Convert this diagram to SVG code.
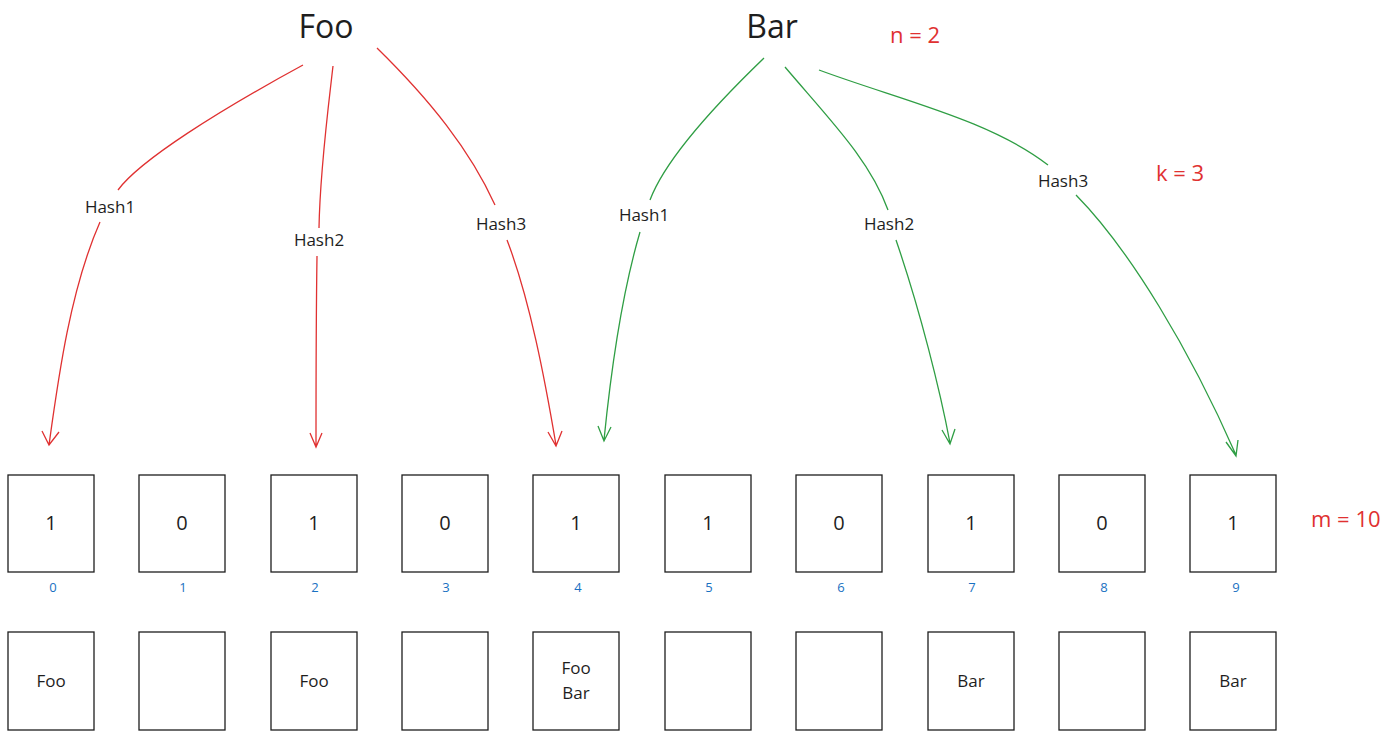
<svg xmlns="http://www.w3.org/2000/svg" width="1400" height="738" viewBox="0 0 1400 738">
<style>
.box{fill:#fff;stroke:#1e1e1e;stroke-width:1.3}
.t{font-family:"Open Sans","Liberation Sans",sans-serif;fill:#1e1e1e;text-anchor:middle}
.num{font-size:20px}
.idx{font-size:13px;fill:#1971c2}
.lbl{font-size:17px}
.red{stroke:#e03131;fill:none;stroke-width:1.3}
.grn{stroke:#2f9e44;fill:none;stroke-width:1.3}
.rt{font-family:"Open Sans","Liberation Sans",sans-serif;fill:#e03131;font-size:22px}
</style>
<rect width="1400" height="738" fill="#fff"/>
<g id="title-foo"><text class="t" x="326" y="38" font-size="32">Foo</text></g>
<g id="title-bar"><text class="t" x="772" y="38" font-size="32">Bar</text></g>
<g id="params">
<text class="rt" x="890" y="43">n = 2</text>
<text class="rt" x="1156" y="181">k = 3</text>
<text class="rt" x="1311" y="527">m = 10</text>
</g>
<g id="connectors">
<path class="red" d="M303 65 C220 110 140 160 118 190"/>
<path class="red" d="M100 222 C70 290 58 380 49 445 M42 431 L49 445 L59 432"/>
<path class="red" d="M333 66 C328 110 320 170 319 228"/>
<path class="red" d="M317 256 C316 320 316 390 316 447 M310 433 L316 447 L322 433"/>
<path class="red" d="M377 48 C430 100 470 150 495 205"/>
<path class="red" d="M507 240 C530 300 545 380 556 445 M548 432 L556 446 L562 431"/>
<path class="grn" d="M764 58 C710 110 665 160 650 200"/>
<path class="grn" d="M640 232 C620 300 610 380 604 440 M598 426 L604 441 L611 427"/>
<path class="grn" d="M785 67 C830 120 870 160 888 210"/>
<path class="grn" d="M896 240 C920 310 940 390 950 443 M942 430 L950 444 L955 429"/>
<path class="grn" d="M819 70 C900 100 990 120 1048 165"/>
<path class="grn" d="M1076 195 C1130 250 1190 350 1236 455 M1226 442 L1236 456 L1238 440"/>
</g>
<g id="hash-labels">
<text class="t lbl" x="110" y="213">Hash1</text>
<text class="t lbl" x="319" y="246">Hash2</text>
<text class="t lbl" x="501" y="230">Hash3</text>
<text class="t lbl" x="644" y="221">Hash1</text>
<text class="t lbl" x="889" y="230">Hash2</text>
<text class="t lbl" x="1063" y="187">Hash3</text>
</g>
<g id="bits">
<g id="b0"><rect class="box" x="8" y="475" width="86" height="97"/><text class="t num" x="51" y="530">1</text><text class="t idx" x="53" y="592">0</text></g>
<g id="b1"><rect class="box" x="139" y="475" width="86" height="97"/><text class="t num" x="182" y="530">0</text><text class="t idx" x="183" y="592">1</text></g>
<g id="b2"><rect class="box" x="271" y="475" width="86" height="97"/><text class="t num" x="314" y="530">1</text><text class="t idx" x="315" y="592">2</text></g>
<g id="b3"><rect class="box" x="402" y="475" width="86" height="97"/><text class="t num" x="445" y="530">0</text><text class="t idx" x="446" y="592">3</text></g>
<g id="b4"><rect class="box" x="533" y="475" width="86" height="97"/><text class="t num" x="576" y="530">1</text><text class="t idx" x="578" y="592">4</text></g>
<g id="b5"><rect class="box" x="665" y="475" width="86" height="97"/><text class="t num" x="708" y="530">1</text><text class="t idx" x="709" y="592">5</text></g>
<g id="b6"><rect class="box" x="796" y="475" width="86" height="97"/><text class="t num" x="839" y="530">0</text><text class="t idx" x="841" y="592">6</text></g>
<g id="b7"><rect class="box" x="928" y="475" width="86" height="97"/><text class="t num" x="971" y="530">1</text><text class="t idx" x="972" y="592">7</text></g>
<g id="b8"><rect class="box" x="1059" y="475" width="86" height="97"/><text class="t num" x="1102" y="530">0</text><text class="t idx" x="1104" y="592">8</text></g>
<g id="b9"><rect class="box" x="1190" y="475" width="86" height="97"/><text class="t num" x="1233" y="530">1</text><text class="t idx" x="1236" y="592">9</text></g>
</g>
<g id="items">
<g id="i0"><rect class="box" x="8" y="632" width="86" height="98"/><text class="t lbl" x="51" y="687">Foo</text></g>
<g id="i1"><rect class="box" x="139" y="632" width="86" height="98"/></g>
<g id="i2"><rect class="box" x="271" y="632" width="86" height="98"/><text class="t lbl" x="314" y="687">Foo</text></g>
<g id="i3"><rect class="box" x="402" y="632" width="86" height="98"/></g>
<g id="i4"><rect class="box" x="533" y="632" width="86" height="98"/><text class="t lbl" x="576" y="674">Foo</text><text class="t lbl" x="576" y="699">Bar</text></g>
<g id="i5"><rect class="box" x="665" y="632" width="86" height="98"/></g>
<g id="i6"><rect class="box" x="796" y="632" width="86" height="98"/></g>
<g id="i7"><rect class="box" x="928" y="632" width="86" height="98"/><text class="t lbl" x="971" y="687">Bar</text></g>
<g id="i8"><rect class="box" x="1059" y="632" width="86" height="98"/></g>
<g id="i9"><rect class="box" x="1190" y="632" width="86" height="98"/><text class="t lbl" x="1233" y="687">Bar</text></g>
</g>
</svg>
